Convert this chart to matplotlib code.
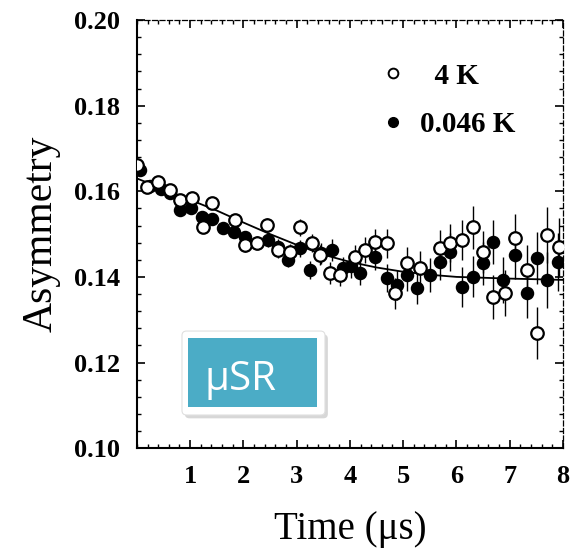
import matplotlib
matplotlib.use("Agg")
import matplotlib.pyplot as plt
from matplotlib.patches import FancyBboxPatch, Rectangle
from matplotlib.lines import Line2D
from matplotlib.ticker import MultipleLocator, FixedLocator

# ---- data ----
t_4K = [0.01, 0.19, 0.40, 0.62, 0.81, 1.03, 1.24, 1.41, 1.84, 2.03, 2.25, 2.44,
        2.65, 2.87, 3.06, 3.29, 3.44, 3.62, 3.81, 4.09, 4.28, 4.47, 4.69, 4.85,
        5.07, 5.31, 5.69, 5.88, 6.10, 6.31, 6.50, 6.69, 6.91, 7.10, 7.32, 7.51,
        7.70, 7.92]
a_4K = [0.1661, 0.1611, 0.1622, 0.1603, 0.1580, 0.1584, 0.1516, 0.1573, 0.1533,
        0.1474, 0.1479, 0.1521, 0.1463, 0.1458, 0.1516, 0.1479, 0.1451, 0.1409,
        0.1404, 0.1446, 0.1463, 0.1481, 0.1479, 0.1362, 0.1432, 0.1420, 0.1467,
        0.1479, 0.1486, 0.1516, 0.1458, 0.1353, 0.1362, 0.1491, 0.1416, 0.1269,
        0.1498, 0.1470]
e_4K = [0.0010, 0.0010, 0.0010, 0.0010, 0.0010, 0.0012, 0.0012, 0.0012, 0.0014,
        0.0015, 0.0015, 0.0016, 0.0018, 0.0018, 0.0020, 0.0022, 0.0024, 0.0025,
        0.0026, 0.0028, 0.0030, 0.0032, 0.0034, 0.0036, 0.0038, 0.0040, 0.0042,
        0.0044, 0.0046, 0.0050, 0.0050, 0.0052, 0.0054, 0.0056, 0.0058, 0.0060,
        0.0065, 0.0068]

t_mK = [0.05, 0.25, 0.45, 0.62, 0.81, 1.02, 1.22, 1.42, 1.62, 1.83, 2.03, 2.25,
        2.46, 2.65, 2.84, 3.06, 3.25, 3.45, 3.66, 3.87, 4.03, 4.19, 4.47, 4.69,
        4.88, 5.07, 5.26, 5.50, 5.69, 5.88, 6.10, 6.31, 6.50, 6.69, 6.87, 7.10,
        7.32, 7.51, 7.70, 7.90]
a_mK = [0.1650, 0.1612, 0.1605, 0.1595, 0.1556, 0.1560, 0.1540, 0.1535, 0.1514,
        0.1505, 0.1493, 0.1480, 0.1486, 0.1470, 0.1440, 0.1467, 0.1416, 0.1455,
        0.1463, 0.1420, 0.1425, 0.1409, 0.1446, 0.1397, 0.1381, 0.1404, 0.1374,
        0.1404, 0.1435, 0.1458, 0.1376, 0.1400, 0.1432, 0.1481, 0.1393, 0.1451,
        0.1362, 0.1444, 0.1393, 0.1435]
e_mK = [0.0010, 0.0010, 0.0010, 0.0010, 0.0010, 0.0012, 0.0012, 0.0012, 0.0013,
        0.0014, 0.0015, 0.0016, 0.0016, 0.0018, 0.0018, 0.0020, 0.0022, 0.0024,
        0.0025, 0.0026, 0.0027, 0.0028, 0.0030, 0.0032, 0.0034, 0.0036, 0.0038,
        0.0040, 0.0042, 0.0044, 0.0046, 0.0048, 0.0050, 0.0052, 0.0054, 0.0056,
        0.0058, 0.0060, 0.0065, 0.0068]

t_fit = [0.0, 0.5, 1.0, 1.5, 2.0, 2.5, 3.0, 3.5, 4.0, 4.5, 5.0, 5.5, 6.0, 7.0, 8.0]
a_fit = [0.1630, 0.1605, 0.1580, 0.1555, 0.1527, 0.1500, 0.1475, 0.1452, 0.1435,
         0.1422, 0.1412, 0.1405, 0.1400, 0.1396, 0.1393]

x_ticks = [1, 2, 3, 4, 5, 6, 7, 8]
y_ticks = [0.10, 0.12, 0.14, 0.16, 0.18, 0.20]
y_ticklabels = ["0.10", "0.12", "0.14", "0.16", "0.18", "0.20"]
labels = ["4 K", "0.046 K"]
badge_text = "\u03bcSR"

# ---- figure ----
serif = ["Liberation Serif", "DejaVu Serif"]
fig = plt.figure(figsize=(5.75, 5.56), dpi=100)
ax = fig.add_axes([0.238, 0.194, 0.741, 0.770])

ax.plot(t_fit, a_fit, color="black", lw=1.3, zorder=2)
ax.errorbar(t_mK, a_mK, yerr=e_mK, fmt="o", ms=8.5, mfc="black", mec="black",
            mew=1.2, ecolor="black", elinewidth=1.0, capsize=0, zorder=3)
ax.errorbar(t_4K, a_4K, yerr=e_4K, fmt="o", ms=9, mfc="white", mec="black",
            mew=1.6, ecolor="black", elinewidth=1.0, capsize=0, zorder=4)

ax.set_xlim(0, 8)
ax.set_ylim(0.10, 0.20)
ax.xaxis.set_major_locator(FixedLocator(x_ticks))
ax.xaxis.set_minor_locator(MultipleLocator(0.2))
ax.yaxis.set_major_locator(FixedLocator(y_ticks))
ax.yaxis.set_minor_locator(MultipleLocator(0.004))
ax.set_yticklabels(y_ticklabels)
ax.set_xticklabels([str(v) for v in x_ticks])

ax.tick_params(which="both", direction="in", top=True, right=True)
ax.tick_params(which="major", length=6, width=1.2, pad=12)
ax.tick_params(which="minor", length=3, width=1.0)
for lab in ax.get_xticklabels() + ax.get_yticklabels():
    lab.set_family(serif)
    lab.set_fontsize(19)
    lab.set_fontweight("bold")

ax.spines["left"].set_linewidth(1.5)
ax.spines["bottom"].set_linewidth(1.5)
for s in ("top", "right"):
    ax.spines[s].set_linewidth(0.9)
    ax.spines[s].set_linestyle((0, (4, 2)))

ax.set_xlabel("Time (\u03bcs)", family=serif, fontsize=28, labelpad=17)
ax.set_ylabel("Asymmetry", family=serif, fontsize=30, labelpad=10)

handles = [
    Line2D([], [], ls="none", marker="o", ms=7, mfc="white", mec="black", mew=1.4),
    Line2D([], [], ls="none", marker="o", ms=7, mfc="black", mec="black"),
]
leg = ax.legend(handles, ["  " + labels[0], labels[1]], loc="upper left",
                bbox_to_anchor=(0.513, 0.962), frameon=False, handlelength=0.8,
                handletextpad=0.5, labelspacing=0.75,
                prop={"family": serif, "size": 21, "weight": "bold"})

# ---- badge ----
fig.add_artist(FancyBboxPatch((0.3215, 0.2476), 0.2487, 0.151,
                              boxstyle="round,pad=0,rounding_size=0.008",
                              transform=fig.transFigure, fc="#bdbdbd",
                              ec="none", alpha=0.6, zorder=9))
fig.add_artist(FancyBboxPatch((0.3165, 0.2536), 0.2487, 0.151,
                              boxstyle="round,pad=0,rounding_size=0.008",
                              transform=fig.transFigure, fc="white",
                              ec="#e0e0e0", lw=0.8, zorder=10))
fig.add_artist(Rectangle((0.327, 0.268), 0.2243, 0.124,
                         transform=fig.transFigure, fc="#4BACC6", ec="none",
                         zorder=11))
fig.text(0.3565, 0.2986, badge_text, color="white", fontsize=29,
         family=["Open Sans", "DejaVu Sans"], va="baseline", ha="left",
         zorder=12)

fig.savefig("out.png", dpi=100)
